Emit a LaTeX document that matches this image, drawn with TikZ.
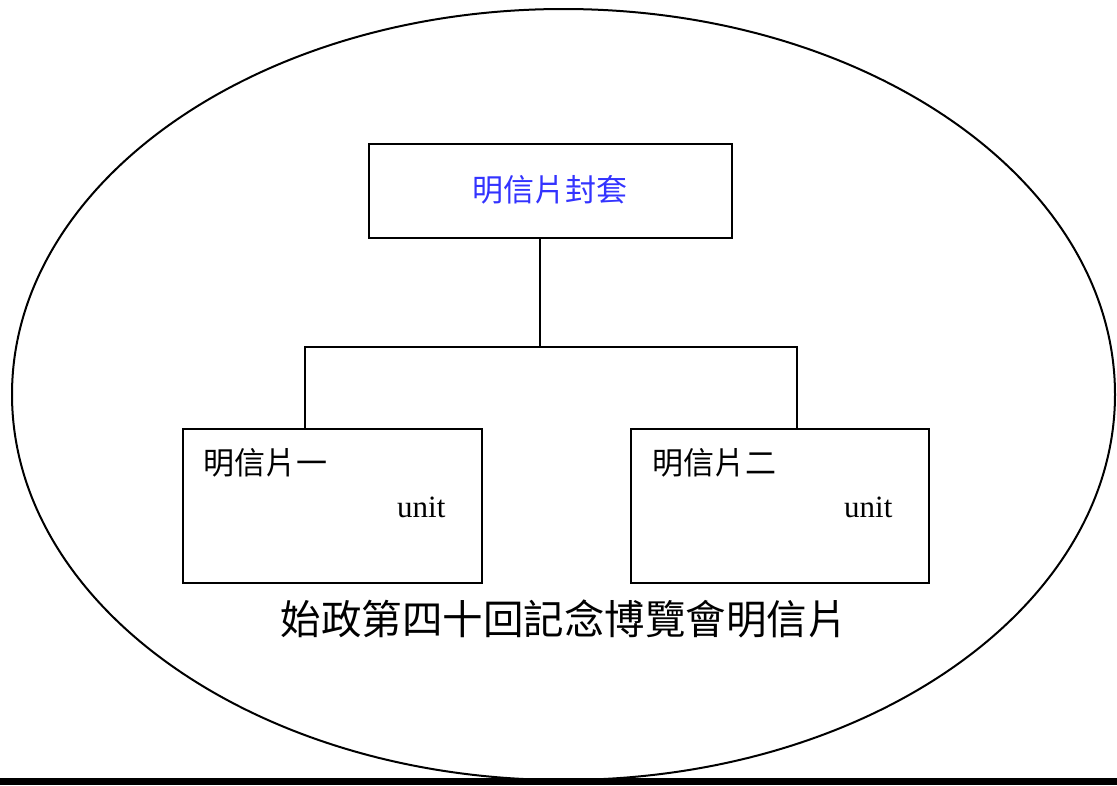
\documentclass[tikz,border=0pt]{standalone}
\usepackage{fontspec}
\usetikzlibrary{shapes.geometric}
\setmainfont{Liberation Serif}
\newfontfamily\cjk{Noto Sans CJK TC}
\definecolor{labelblue}{RGB}{51,51,255}
\tikzset{
  boxnode/.style={draw=black, line width=2pt, fill=white, inner sep=0pt},
  link/.style={draw=black, line width=2pt, line join=miter},
  cjksmall/.style={font=\cjk\fontsize{31}{36}\selectfont, inner sep=0pt},
  unitlabel/.style={font=\fontsize{31}{36}\selectfont, inner sep=0pt},
  cjkbig/.style={font=\cjk\fontsize{40.5}{46}\selectfont, inner sep=0pt}
}
\begin{document}
\begin{tikzpicture}[x=1pt,y=-1pt]
\useasboundingbox (0,0) rectangle (1117,785);
\fill[white] (0,0) rectangle (1117,785);
% outer ellipse
\node[draw=black, line width=2pt, ellipse, minimum width=1103pt, minimum height=771pt, inner sep=0pt] (oval) at (563.5,394.5) {};
% bottom rule
\fill[black] (0,778) rectangle (1117,785);
% boxes
\node[boxnode, minimum width=363pt, minimum height=94pt] (top) at (550.5,191) {};
\node[cjksmall, text=labelblue] (toplabel) at (550,190) {明信片封套};
\node[boxnode, minimum width=299pt, minimum height=154pt] (left) at (332.5,506) {};
\node[boxnode, minimum width=298pt, minimum height=154pt] (right) at (780,506) {};
\node[cjksmall, anchor=west] (leftlabel) at (203,463) {明信片一};
\node[unitlabel, anchor=base west] (leftunit) at (397,517) {unit};
\node[cjksmall, anchor=west] (rightlabel) at (652,463) {明信片二};
\node[unitlabel, anchor=base west] (rightunit) at (844,517) {unit};
% connectors
\coordinate (j) at (540,347);
\coordinate (hl) at (305,347);
\coordinate (hr) at (797,347);
\draw[link] (top.south -| j) -- (j);
\draw[link] (hl |- left.north) -- (hl) -- (hr) -- (hr |- right.north);
% caption
\node[cjkbig] (caption) at (564,619) {始政第四十回記念博覽會明信片};
\end{tikzpicture}
\end{document}
